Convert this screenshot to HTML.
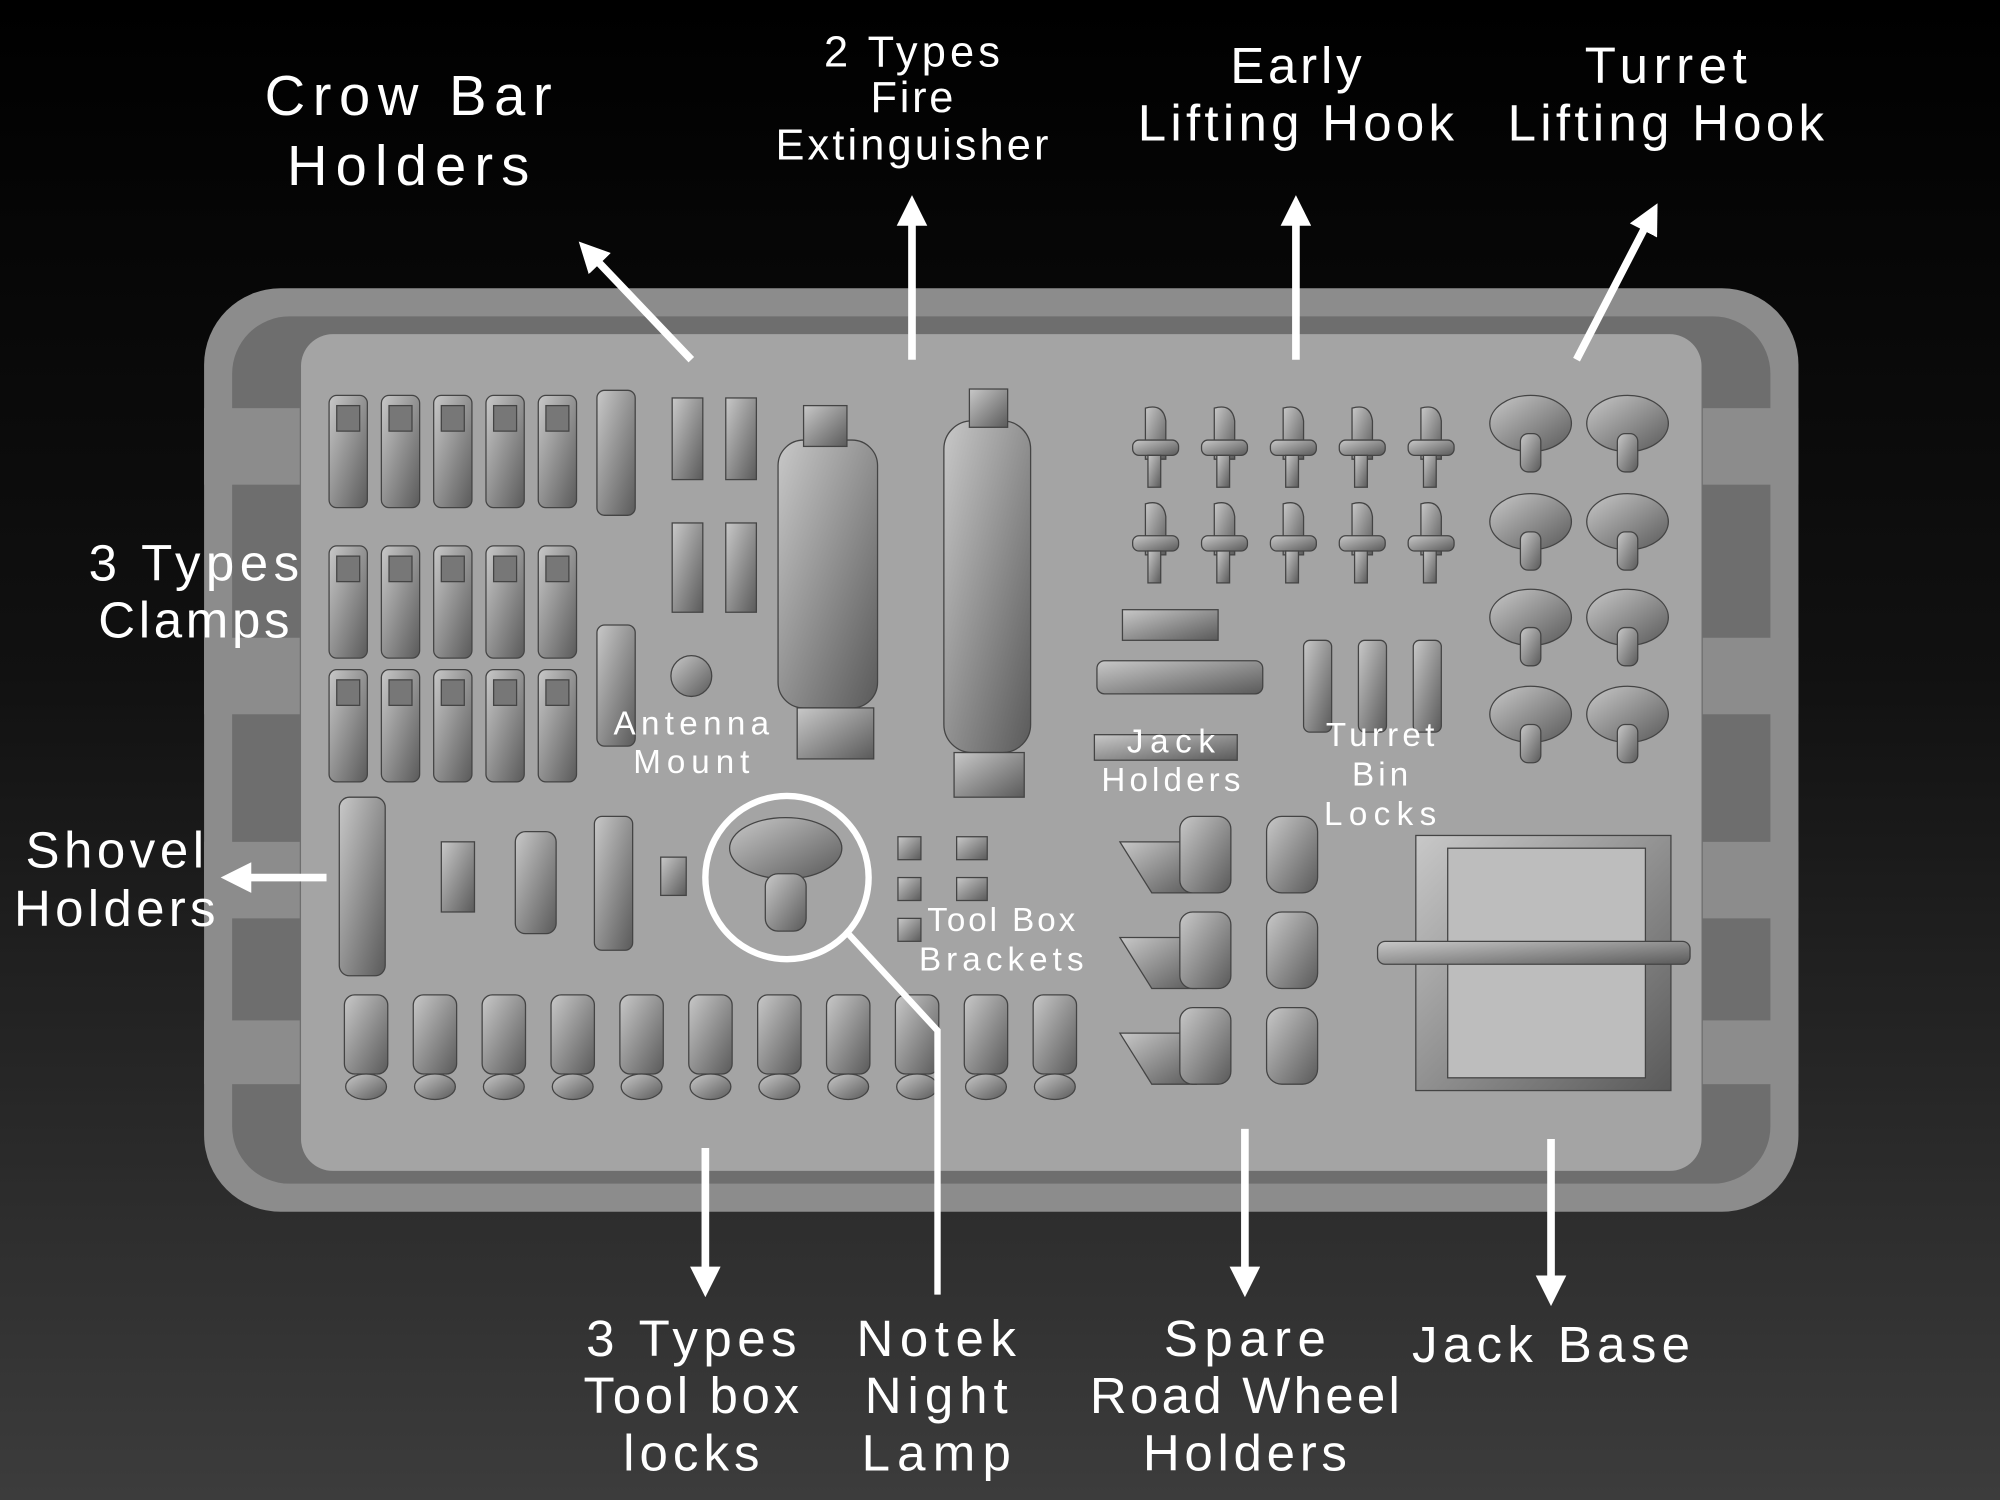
<!DOCTYPE html>
<html><head><meta charset="utf-8"><style>
html,body{margin:0;padding:0;background:#000;}
svg{display:block;}
text{font-family:"Liberation Sans",sans-serif;fill:#fff;}
</style></head><body>
<svg width="2000" height="1500" viewBox="0 0 1568 1176" xmlns="http://www.w3.org/2000/svg">
<defs>
<linearGradient id="bg" x1="0" y1="0" x2="0" y2="1">
<stop offset="0" stop-color="#000"/><stop offset="0.45" stop-color="#111"/><stop offset="1" stop-color="#3c3c3c"/>
</linearGradient>
<linearGradient id="part" x1="0" y1="0" x2="1" y2="1">
<stop offset="0" stop-color="#c8c8c8"/><stop offset="1" stop-color="#5a5a5a"/>
</linearGradient>
<marker id="ah" markerWidth="4" markerHeight="4" refX="2" refY="2" orient="auto" markerUnits="strokeWidth">
<path d="M0,0 L4,2 L0,4 z" fill="#fff"/></marker>
</defs>
<rect width="1568" height="1176" fill="url(#bg)"/>
<rect x="160" y="226" width="1250" height="724" rx="60" fill="#8c8c8c"/>
<rect x="182" y="248" width="1206" height="680" rx="45" fill="#6e6e6e"/>
<rect x="236" y="262" width="1098" height="656" rx="25" fill="#a4a4a4"/>
<g fill="#8c8c8c">
<rect x="160" y="320" width="75" height="60"/><rect x="160" y="500" width="75" height="60"/><rect x="160" y="660" width="75" height="60"/><rect x="160" y="800" width="75" height="50"/>
<rect x="1335" y="320" width="75" height="60"/><rect x="1335" y="500" width="75" height="60"/><rect x="1335" y="660" width="75" height="60"/><rect x="1335" y="800" width="75" height="50"/>
</g>
<g fill="url(#part)" stroke="#444" stroke-width="1">
<g id="cl"><rect x="258" y="310" width="30" height="88" rx="6"/><rect x="264" y="318" width="18" height="20" fill="#777"/></g>
<use href="#cl" x="41"/><use href="#cl" x="82"/><use href="#cl" x="123"/><use href="#cl" x="164"/>
<use href="#cl" y="118"/><use href="#cl" x="41" y="118"/><use href="#cl" x="82" y="118"/><use href="#cl" x="123" y="118"/><use href="#cl" x="164" y="118"/>
<use href="#cl" y="215"/><use href="#cl" x="41" y="215"/><use href="#cl" x="82" y="215"/><use href="#cl" x="123" y="215"/><use href="#cl" x="164" y="215"/>
<rect x="468" y="306" width="30" height="98" rx="6"/><rect x="468" y="490" width="30" height="95" rx="6"/>
<rect x="527" y="312" width="24" height="64"/><rect x="569" y="312" width="24" height="64"/>
<rect x="527" y="410" width="24" height="70"/><rect x="569" y="410" width="24" height="70"/>
<circle cx="542" cy="530" r="16"/>
<rect x="610" y="345" width="78" height="210" rx="20"/><rect x="630" y="318" width="34" height="32"/><rect x="625" y="555" width="60" height="40"/>
<rect x="740" y="330" width="68" height="260" rx="22"/><rect x="760" y="305" width="30" height="30"/><rect x="748" y="590" width="55" height="35"/>
<g id="hk"><path d="M898 320 q14 -4 16 10 v30 h-16 z"/><rect x="888" y="345" width="36" height="12" rx="5"/><rect x="900" y="357" width="10" height="25"/></g>
<use href="#hk" x="54"/><use href="#hk" x="108"/><use href="#hk" x="162"/><use href="#hk" x="216"/>
<use href="#hk" y="75"/><use href="#hk" x="54" y="75"/><use href="#hk" x="108" y="75"/><use href="#hk" x="162" y="75"/><use href="#hk" x="216" y="75"/>
<g id="tl"><ellipse cx="1200" cy="332" rx="32" ry="22"/><rect x="1192" y="340" width="16" height="30" rx="6"/></g>
<use href="#tl" x="76"/><use href="#tl" y="77"/><use href="#tl" x="76" y="77"/><use href="#tl" y="152"/><use href="#tl" x="76" y="152"/><use href="#tl" y="228"/><use href="#tl" x="76" y="228"/>
<rect x="880" y="478" width="75" height="24"/><rect x="860" y="518" width="130" height="26" rx="6"/><rect x="858" y="576" width="112" height="20"/>
<rect x="1022" y="502" width="22" height="72" rx="5"/><rect x="1065" y="502" width="22" height="72" rx="5"/><rect x="1108" y="502" width="22" height="72" rx="5"/>
<rect x="266" y="625" width="36" height="140" rx="8"/><rect x="346" y="660" width="26" height="55"/><rect x="404" y="652" width="32" height="80" rx="8"/><rect x="466" y="640" width="30" height="105" rx="6"/><rect x="518" y="672" width="20" height="30"/>
<ellipse cx="616" cy="665" rx="44" ry="24"/><rect x="600" y="685" width="32" height="45" rx="10"/>
<rect x="704" y="656" width="18" height="18"/><rect x="750" y="656" width="24" height="18"/><rect x="704" y="688" width="18" height="18"/><rect x="750" y="688" width="24" height="18"/><rect x="704" y="720" width="18" height="18"/>
<g id="bl"><rect x="270" y="780" width="34" height="62" rx="8"/><ellipse cx="287" cy="852" rx="16" ry="10"/></g>
<use href="#bl" x="54"/><use href="#bl" x="108"/><use href="#bl" x="162"/><use href="#bl" x="216"/><use href="#bl" x="270"/><use href="#bl" x="324"/><use href="#bl" x="378"/><use href="#bl" x="432"/><use href="#bl" x="486"/><use href="#bl" x="540"/>
<g id="rw"><path d="M878 660 h60 v40 h-35 z"/><rect x="925" y="640" width="40" height="60" rx="10"/><rect x="993" y="640" width="40" height="60" rx="12"/></g>
<use href="#rw" y="75"/><use href="#rw" y="150"/>
<rect x="1110" y="655" width="200" height="200"/><rect x="1135" y="665" width="155" height="180" fill="#bdbdbd"/><rect x="1080" y="738" width="245" height="18" rx="6"/>
</g>
<circle cx="617" cy="688" r="64" fill="none" stroke="#fff" stroke-width="5"/>
<path d="M665 732 L735 808 V1015" fill="none" stroke="#fff" stroke-width="5"/>
<g stroke="#fff" stroke-width="6" marker-end="url(#ah)" fill="none">
<line x1="542" y1="282" x2="462" y2="198"/>
<line x1="715" y1="282" x2="715" y2="165"/>
<line x1="1016" y1="282" x2="1016" y2="165"/>
<line x1="1236" y1="282" x2="1294" y2="170"/>
<line x1="256" y1="688" x2="185" y2="688"/>
<line x1="553" y1="900" x2="553" y2="1005"/>
<line x1="976" y1="885" x2="976" y2="1005"/>
<line x1="1216" y1="893" x2="1216" y2="1012"/>
</g>
<g text-anchor="middle" font-size="44" lengthAdjust="spacing">
<text x="320" y="90" textLength="225" lengthAdjust="spacing">Crow Bar</text><text x="320" y="145" textLength="190" lengthAdjust="spacing">Holders</text>
<text x="715" y="52" font-size="34" textLength="138" lengthAdjust="spacing">2 Types</text><text x="715" y="88" font-size="34" textLength="65" lengthAdjust="spacing">Fire</text><text x="715" y="125" font-size="34" textLength="214" lengthAdjust="spacing">Extinguisher</text>
<text x="1016" y="65" font-size="40" textLength="103" lengthAdjust="spacing">Early</text><text x="1016" y="110" font-size="40" textLength="248" lengthAdjust="spacing">Lifting Hook</text>
<text x="1306" y="65" font-size="40" textLength="127" lengthAdjust="spacing">Turret</text><text x="1306" y="110" font-size="40" textLength="248" lengthAdjust="spacing">Lifting Hook</text>
<text x="152" y="455" font-size="40" textLength="165" lengthAdjust="spacing">3 Types</text><text x="152" y="500" font-size="40" textLength="150" lengthAdjust="spacing">Clamps</text>
<text x="90" y="680" font-size="40" textLength="140" lengthAdjust="spacing">Shovel</text><text x="90" y="726" font-size="40" textLength="158" lengthAdjust="spacing">Holders</text>
<text x="542" y="1063" font-size="40" textLength="165" lengthAdjust="spacing">3 Types</text><text x="542" y="1108" font-size="40" textLength="169" lengthAdjust="spacing">Tool box</text><text x="542" y="1153" font-size="40" textLength="107" lengthAdjust="spacing">locks</text>
<text x="734" y="1063" font-size="40" textLength="125" lengthAdjust="spacing">Notek</text><text x="734" y="1108" font-size="40" textLength="112" lengthAdjust="spacing">Night</text><text x="734" y="1153" font-size="40" textLength="117" lengthAdjust="spacing">Lamp</text>
<text x="976" y="1063" font-size="40" textLength="127" lengthAdjust="spacing">Spare</text><text x="976" y="1108" font-size="40" textLength="243" lengthAdjust="spacing">Road Wheel</text><text x="976" y="1153" font-size="40" textLength="160" lengthAdjust="spacing">Holders</text>
<text x="1216" y="1068" font-size="40" textLength="218" lengthAdjust="spacing">Jack Base</text>
<g font-size="26">
<text x="542" y="576" textLength="122" lengthAdjust="spacing">Antenna</text><text x="542" y="606" textLength="91" lengthAdjust="spacing">Mount</text>
<text x="918" y="590" textLength="69" lengthAdjust="spacing">Jack</text><text x="918" y="620" textLength="109" lengthAdjust="spacing">Holders</text>
<text x="1082" y="585" textLength="85" lengthAdjust="spacing">Turret</text><text x="1082" y="616" textLength="44" lengthAdjust="spacing">Bin</text><text x="1082" y="647" textLength="88" lengthAdjust="spacing">Locks</text>
<text x="785" y="730" textLength="116" lengthAdjust="spacing">Tool Box</text><text x="785" y="761" textLength="129" lengthAdjust="spacing">Brackets</text>
</g>
</g>
</svg>
</body></html>
